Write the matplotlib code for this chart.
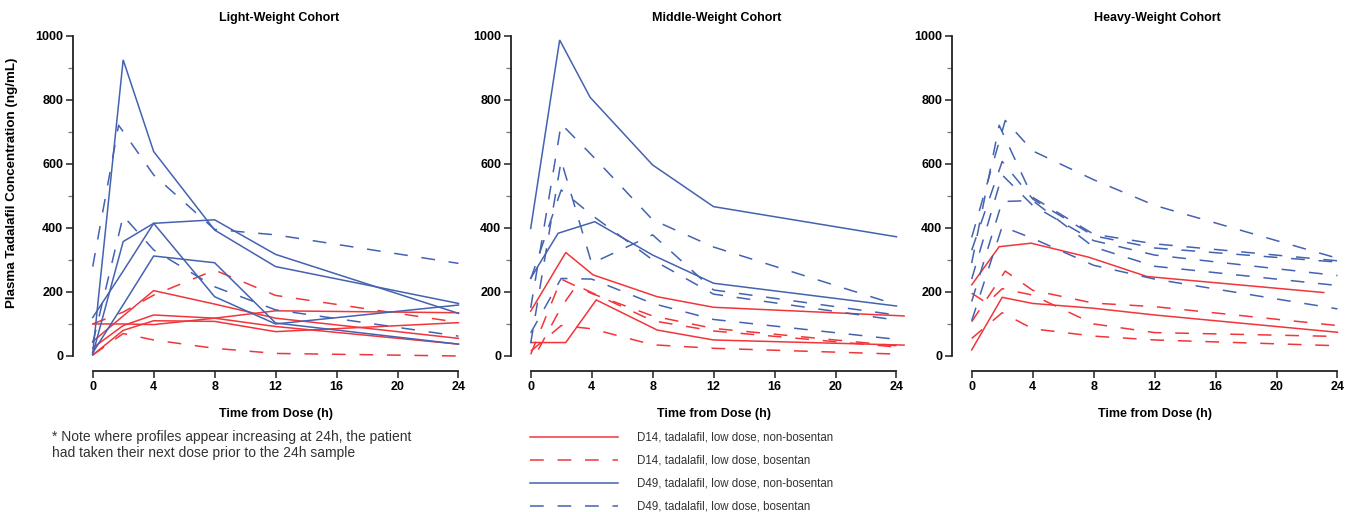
import matplotlib
matplotlib.use('Agg')
import matplotlib.pyplot as plt
from matplotlib.lines import Line2D

plt.rcParams['font.family'] = ['Liberation Sans', 'DejaVu Sans']

# ---------------- data ----------------
TIMES = [0, 2, 4, 8, 12, 24]
panel_titles = ["Light-Weight Cohort", "Middle-Weight Cohort", "Heavy-Weight Cohort"]
legend_labels = ["D14, tadalafil, low dose, non-bosentan",
                 "D14, tadalafil, low dose, bosentan",
                 "D49, tadalafil, low dose, non-bosentan",
                 "D49, tadalafil, low dose, bosentan"]
x_ticks = [0, 4, 8, 12, 16, 20, 24]
y_ticks = [0, 200, 400, 600, 800, 1000]

# Light-weight cohort
light_d14_nonbos_t = [TIMES, TIMES, TIMES, TIMES]
light_d14_nonbos = [[45, 125, 204, 162, 118, 55],
                    [100, 100, 98, 118, 141, 135],
                    [25, 95, 128, 118, 92, 37],
                    [3, 80, 110, 108, 76, 104]]
light_d14_bos_t = [TIMES, TIMES]
light_d14_bos = [[100, 137, 190, 268, 189, 105],
                 [3, 70, 50, 24, 8, 0]]
light_d49_nonbos_t = [TIMES, TIMES, TIMES, TIMES]
light_d49_nonbos = [[8, 924, 638, 393, 279, 164],
                    [120, 265, 414, 425, 317, 133],
                    [5, 357, 414, 185, 100, 159],
                    [10, 160, 312, 291, 103, 37]]
light_d49_bos_t = [[0, 1.7, 4, 8, 12, 24], [0, 2, 4, 8, 12, 24]]
light_d49_bos = [[279, 720, 565, 395, 378, 289],
                 [40, 437, 331, 216, 144, 62]]

# Middle-weight cohort
mid_d14_nonbos_t = [[0, 2.3, 4.1, 8.3, 12, 24.5], [0, 2.3, 4.3, 8.3, 12, 24.5]]
mid_d14_nonbos = [[140, 323, 253, 185, 152, 125],
                  [42, 42, 175, 81, 50, 34]]
mid_d14_bos_t = [TIMES, [0.5, 2, 3, 8, 12, 24], TIMES]
mid_d14_bos = [[5, 240, 195, 125, 86, 32],
               [20, 152, 220, 110, 78, 28],
               [15, 95, 85, 35, 24, 6]]
mid_d49_nonbos_t = [[0, 1.9, 3.9, 8, 12, 24], [0, 1.8, 4.2, 8, 12, 24]]
mid_d49_nonbos = [[398, 986, 807, 596, 466, 372],
                  [243, 383, 419, 315, 227, 156]]
mid_d49_bos_t = [TIMES, TIMES, TIMES, TIMES]
mid_d49_bos = [[150, 724, 627, 425, 340, 160],
               [40, 610, 289, 378, 206, 128],
               [72, 242, 240, 164, 114, 52],
               [240, 518, 440, 300, 193, 112]]

# Heavy-weight cohort
heavy_d14_nonbos_t = [[0, 1.8, 3.9, 7.7, 11.5, 23.1], [0, 2, 4, 8, 12, 24]]
heavy_d14_nonbos = [[222, 341, 352, 308, 248, 198],
                    [19, 183, 164, 149, 128, 74]]
heavy_d14_bos_t = [[0, 2.2, 4, 8, 12, 24], [0, 1, 2, 4, 8, 12, 24], TIMES]
heavy_d14_bos = [[107, 265, 205, 165, 154, 95],
                 [196, 165, 210, 190, 100, 73, 61],
                 [55, 135, 85, 62, 50, 32]]
heavy_d49_bos_t = [[0, 2.2, 4, 8, 12, 24], [0, 1.8, 4, 8, 12, 24], TIMES,
                   TIMES, TIMES, TIMES]
heavy_d49_bos = [[370, 735, 640, 550, 470, 305],
                 [290, 720, 495, 380, 350, 297],
                 [330, 607, 490, 375, 337, 293],
                 [240, 565, 470, 360, 315, 251],
                 [170, 482, 485, 340, 280, 220],
                 [110, 404, 367, 283, 240, 147]]

# ---------------- styling ----------------
RED = '#f2353a'
BLUE = '#4462b0'
DASH = (0, (9, 9))
LW = 1.1
W, H = 1345, 512
XMIN, XMAX, YMIN, YMAX = -1.3, 24.6, -47, 1010
PXH = 15.24
PXV = 0.3205
Y0PX = 356
x0_px = [92.7, 530.7, 971.7]

fig = plt.figure(figsize=(W / 100, H / 100), dpi=100)

panels = [
    [(light_d14_nonbos_t, light_d14_nonbos, RED, '-'),
     (light_d14_bos_t, light_d14_bos, RED, DASH),
     (light_d49_nonbos_t, light_d49_nonbos, BLUE, '-'),
     (light_d49_bos_t, light_d49_bos, BLUE, DASH)],
    [(mid_d14_nonbos_t, mid_d14_nonbos, RED, '-'),
     (mid_d14_bos_t, mid_d14_bos, RED, DASH),
     (mid_d49_nonbos_t, mid_d49_nonbos, BLUE, '-'),
     (mid_d49_bos_t, mid_d49_bos, BLUE, DASH)],
    [(heavy_d14_nonbos_t, heavy_d14_nonbos, RED, '-'),
     (heavy_d14_bos_t, heavy_d14_bos, RED, DASH),
     ([], [], BLUE, '-'),
     (heavy_d49_bos_t, heavy_d49_bos, BLUE, DASH)],
]

axes = []
for i, (x0, title, groups) in enumerate(zip(x0_px, panel_titles, panels)):
    left = x0 + XMIN * PXH
    right = x0 + XMAX * PXH
    top = Y0PX - YMAX * PXV
    bottom = Y0PX - YMIN * PXV
    ax = fig.add_axes([left / W, 1 - bottom / H, (right - left) / W, (bottom - top) / H])
    axes.append(ax)
    for tlist, vlist, col, ls in groups:
        for t, v in zip(tlist, vlist):
            ax.plot(t, v, color=col, ls=ls, lw=LW, solid_joinstyle='miter')
    ax.set_xlim(XMIN, XMAX)
    ax.set_ylim(YMIN, YMAX)
    for s in ['top', 'right']:
        ax.spines[s].set_visible(False)
    for s in ['left', 'bottom']:
        ax.spines[s].set_linewidth(1.3)
        ax.spines[s].set_color('#222222')
    ax.spines['left'].set_bounds(0, 1000)
    ax.spines['bottom'].set_bounds(0, 24)
    ax.set_xticks(x_ticks)
    ax.set_yticks(y_ticks)
    ax.set_yticks([100, 300, 500, 700, 900], minor=True)
    ax.tick_params(which='major', length=5, width=1.1, color='#222222',
                   labelsize=9, pad=2)
    ax.tick_params(which='minor', axis='y', length=3.5, width=0.9, color='#777777')
    for lab in ax.get_xticklabels() + ax.get_yticklabels():
        lab.set_fontweight('bold')
    axh_px = bottom - top
    axw_px = right - left
    ax.set_title(title, fontsize=9, fontweight='bold', pad=0,
                 x=(12.2 - XMIN) / (XMAX - XMIN), y=(bottom - 18) / axh_px, va='center')
    ax.set_xlabel("Time from Dose (h)", fontsize=9, fontweight='bold')
    ax.xaxis.set_label_coords((12 - XMIN) / (XMAX - XMIN), (bottom - 408) / axh_px)
    if i == 0:
        ax.set_ylabel("Plasma Tadalafil Concentration (ng/mL)", fontsize=9.6,
                      fontweight='bold')
        ax.yaxis.set_label_coords((18 - left) / axw_px, (bottom - 183) / axh_px)

# note
fig.text(52 / W, 1 - 445 / H,
         "* Note where profiles appear increasing at 24h, the patient\n"
         "had taken their next dose prior to the 24h sample",
         fontsize=10, color='#333333', va='center', ha='left', linespacing=1.15)

# legend
handles = [Line2D([], [], color=RED, ls='-', lw=LW),
           Line2D([], [], color=RED, ls=DASH, lw=LW),
           Line2D([], [], color=BLUE, ls='-', lw=LW),
           Line2D([], [], color=BLUE, ls=DASH, lw=LW)]
leg = fig.legend(handles, legend_labels, loc='upper left',
                 bbox_to_anchor=(530 / W, 1 - 432 / H), frameon=False,
                 handlelength=7.6, handletextpad=1.65,
                 labelspacing=0.95, borderpad=0, borderaxespad=0,
                 prop={'size': 8.3})
for txt in leg.get_texts():
    txt.set_color('#333333')

fig.savefig('out.png', dpi=100)
